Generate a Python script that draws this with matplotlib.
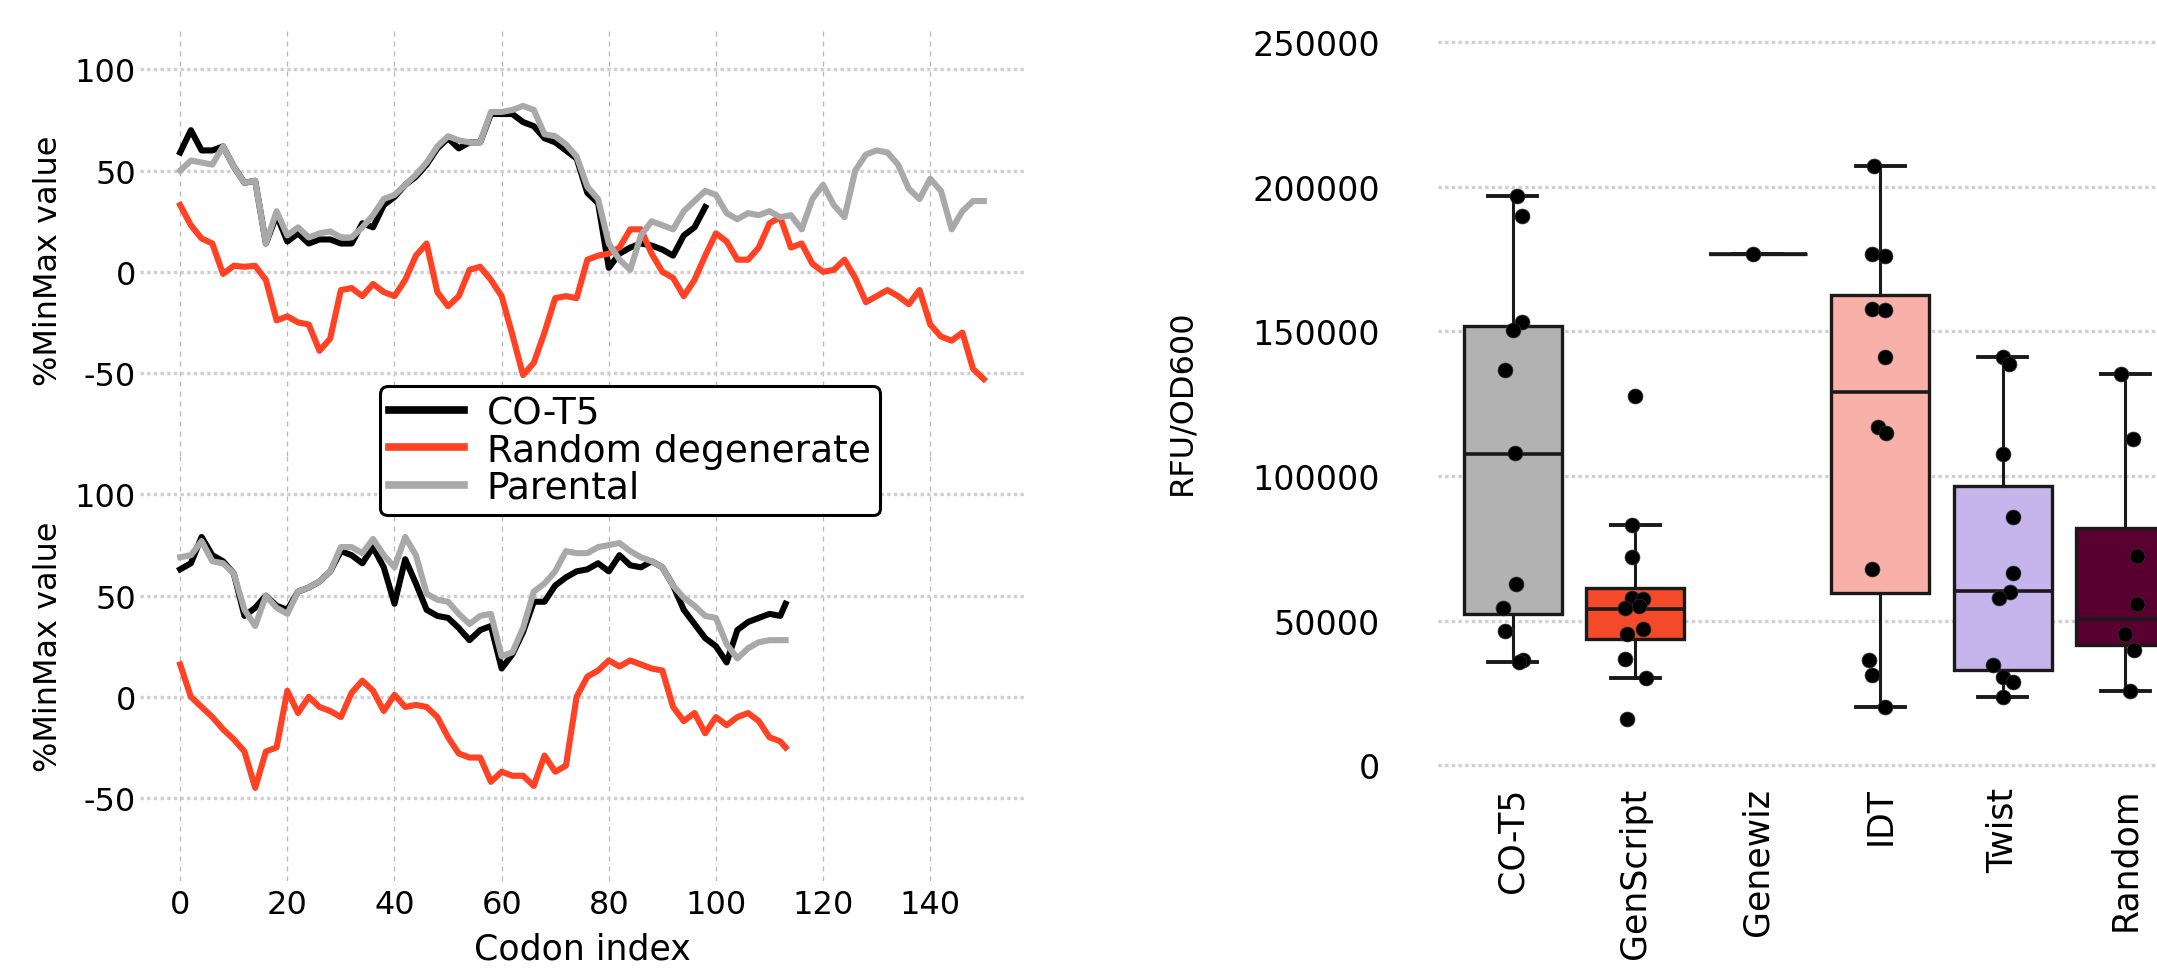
import matplotlib
matplotlib.use('Agg')
import matplotlib.pyplot as plt
from matplotlib.lines import Line2D

plt.rcParams['font.family'] = ['DejaVu Sans']
plt.rcParams['axes.unicode_minus'] = False

# ---------------- data: left panels (sliding-window %MinMax) ----------------
series_labels = ["CO-T5", "Random degenerate", "Parental"]

codon_top = list(range(0, 151, 2))
codon_top_cot5 = list(range(0, 99, 2))
top_cot5 = [59, 70, 60, 60, 62, 52, 44, 45, 14, 28,
            15, 19, 14, 16, 16, 14, 14, 24, 22, 33,
            37, 43, 47, 53, 61, 66, 61, 64, 64, 78,
            78, 78, 74, 72, 66, 64, 60, 56, 39, 34,
            2, 9, 12, 14, 13, 11, 8, 18, 22, 32]
top_random = [33, 23, 16.5, 14, -1, 3, 2.5, 3, -4, -24,
              -22, -25, -26, -39, -33, -9, -8, -12, -6, -10,
              -12, -4, 8, 14, -10, -17, -12, 1, 2.5, -4,
              -12, -31, -51, -45, -30, -13, -12, -13, 6, 8,
              9, 12, 21, 21, 9, 0, -3, -12, -4, 8,
              19, 15, 6, 6, 12, 24, 27, 12, 14, 4,
              0, 1, 6, -3, -15, -12, -9, -12, -16, -9,
              -26, -32, -34, -30, -48, -53]
top_parental = [50, 55, 54, 53, 62, 52, 44, 45, 14, 30,
                18, 22, 17, 19, 20, 17, 17, 22, 28, 36,
                38, 43, 48, 54, 62, 67, 65, 64, 64, 79,
                79, 80, 82, 80, 68, 67, 63, 57, 42, 36,
                14, 6, 1, 18, 25, 23, 21, 30, 35, 40,
                38, 29, 26, 29, 28, 30, 27, 28, 21, 36,
                43, 33, 27, 50, 58, 60, 59, 53, 41, 36,
                46, 40, 21, 30, 35, 35]

codon_bot = list(range(0, 113, 2)) + [113]
bot_cot5 = [63, 66, 79, 70, 67, 61, 40, 44, 50, 45,
            43, 52, 54, 57, 62, 72, 70, 66, 74, 64,
            46, 68, 56, 43, 40, 39, 34, 28, 33, 35,
            14, 21, 32, 47, 47, 55, 59, 62, 63, 66,
            62, 70, 65, 64, 67, 64, 55, 43, 36, 29,
            25, 17, 33, 37, 39, 41, 40, 46]
bot_random = [16, 0, -5, -10, -16, -21, -27, -45, -27, -25,
              3, -8, 0, -5, -7, -10, 2, 8, 3, -7,
              1, -5, -4, -5, -10, -20, -28, -30, -30, -42,
              -37, -39, -39, -44, -29, -37, -34, 0, 10, 13,
              18, 15, 18, 16, 14, 13, -5, -12, -8, -18,
              -10, -14, -10, -8, -12, -20, -22, -25]
bot_parental = [69, 70, 77, 67, 66, 61, 43, 35, 50, 44,
                41, 52, 54, 57, 62, 74, 74, 71, 78, 70,
                64, 79, 70, 51, 48, 47, 41, 36, 40, 41,
                20, 22, 34, 52, 56, 62, 72, 71, 71, 74,
                75, 76, 72, 69, 67, 64, 55, 49, 45, 40,
                39, 26, 19, 24, 27, 28, 28, 28]

# ---------------- data: right panel (RFU/OD600) ----------------
categories = ["CO-T5", "GenScript", "Genewiz", "IDT", "Twist", "Random"]
box_whislo = [35700, 30200, 176700, 20200, 23600, 25600]
box_q1 = [52400, 43500, 176700, 59700, 32800, 41500]
box_med = [107700, 54100, 176700, 129100, 60200, 50700]
box_q3 = [151700, 61400, 176700, 162700, 96500, 82100]
box_whishi = [196900, 82900, 176700, 207000, 141200, 135400]

pts_cot5 = [196900, 189700, 153200, 150600, 136600, 108100, 62800, 54400, 46300, 36300, 35700]
pts_genscript = [127600, 82900, 72000, 57800, 57500, 55000, 54400, 47200, 45500, 36900, 30200, 16000]
pts_genewiz = [176700]
pts_idt = [207000, 176700, 176000, 157800, 157300, 141000, 116900, 114700, 67700, 36300, 31300, 20200]
pts_twist = [141200, 138800, 107700, 85800, 66600, 60000, 57900, 34600, 30600, 28800, 23600]
pts_random = [135400, 112700, 72400, 55900, 45500, 39700, 25600]

# horizontal strip offsets of the dots (category units), as seen in the picture
dx_cot5 = [0.035, 0.074, 0.074, 0.0, -0.06, 0.016, 0.03, -0.08, -0.06, 0.08, 0.05]
dx_genscript = [0.0, -0.03, -0.03, -0.03, 0.06, 0.03, -0.08, 0.06, -0.07, -0.08, 0.09, -0.07]
dx_genewiz = [-0.04]
dx_idt = [-0.05, -0.07, 0.04, -0.07, 0.04, 0.04, -0.02, 0.05, -0.07, -0.09, -0.07, 0.04]
dx_twist = [0.0, 0.05, 0.0, 0.085, 0.085, 0.06, -0.03, -0.08, 0.0, 0.085, 0.0]
dx_random = [-0.03, 0.06, 0.1, 0.1, 0.0, 0.07, 0.04]

# ---------------- styling ----------------
line_colors = ["#000000", "#ff4124", "#a9a9a9"]
box_colors = ["#b2b2b2", "#f44a2a", "#f0c8c0", "#f8b1a8", "#c5b5ec", "#5a0030"]
edge = "#1a1a1a"

W, H = 2157, 970
fig = plt.figure(figsize=(W / 100, H / 100), dpi=100)


def rect(x0, y0, x1, y1):
    return [x0 / W, 1 - y1 / H, (x1 - x0) / W, (y1 - y0) / H]


ax_top = fig.add_axes(rect(140, 30, 1024, 457))
ax_bot = fig.add_axes(rect(140, 455, 1024, 882))
ax_box = fig.add_axes(rect(1438, 30, 2157, 775))

for ax in (ax_top, ax_bot):
    ax.set_facecolor("none")
    ax.set_xlim(-7.5, 157.5)
    ax.set_ylim(-91, 120)
    ax.set_xticks(range(0, 141, 20))
    ax.set_yticks([-50, 0, 50, 100])
    ax.grid(axis="x", color="#b8b8b8", linestyle=(0, (4, 4)), linewidth=0.9)
    ax.grid(axis="y", color="#cfcfcf", linestyle=(0, (1, 1)), linewidth=2.4)
    ax.set_axisbelow(True)
    for s in ax.spines.values():
        s.set_visible(False)
    ax.tick_params(length=0, labelsize=23)
    ax.tick_params(axis="y", pad=3)
    ax.tick_params(axis="x", pad=6)
    ax.set_ylabel("%MinMax value", fontsize=23)

ax_top.tick_params(labelbottom=False)
ax_top.yaxis.set_label_coords(-0.086, 0.46)
ax_bot.yaxis.set_label_coords(-0.086, 0.55)
ax_bot.set_xlabel("Codon index", fontsize=25, labelpad=8)

lw = 4.4
ax_top.plot(codon_top_cot5, top_cot5, color=line_colors[0], lw=lw)
ax_top.plot(codon_top, top_random, color=line_colors[1], lw=lw)
ax_top.plot(codon_top, top_parental, color=line_colors[2], lw=lw)
ax_bot.plot(codon_bot, bot_cot5, color=line_colors[0], lw=lw)
ax_bot.plot(codon_bot, bot_random, color=line_colors[1], lw=lw)
ax_bot.plot(codon_bot, bot_parental, color=line_colors[2], lw=lw)

handles = [Line2D([], [], color=c, lw=5.5) for c in line_colors]
leg = fig.legend(handles, series_labels, loc="upper left",
                 bbox_to_anchor=(380 / W, 1 - 387 / H), fontsize=27,
                 frameon=True, fancybox=True, framealpha=1, edgecolor="black",
                 borderpad=0.25, labelspacing=0.03, handlelength=2.0,
                 handletextpad=0.6, borderaxespad=0)
leg.get_frame().set_linewidth(2.2)

# ---------------- right panel ----------------
stats = []
for i in range(len(categories)):
    stats.append(dict(med=box_med[i], q1=box_q1[i], q3=box_q3[i],
                      whislo=box_whislo[i], whishi=box_whishi[i]))
bp = ax_box.bxp(stats, positions=range(len(categories)), widths=0.8,
                patch_artist=True, showfliers=False, capwidths=0.4,
                boxprops=dict(linewidth=2.4, edgecolor=edge),
                medianprops=dict(color=edge, linewidth=2.6),
                whiskerprops=dict(color=edge, linewidth=2.2),
                capprops=dict(color=edge, linewidth=2.8))
for patch, col in zip(bp["boxes"], box_colors):
    patch.set_facecolor(col)

all_pts = [pts_cot5, pts_genscript, pts_genewiz, pts_idt, pts_twist, pts_random]
all_dx = [dx_cot5, dx_genscript, dx_genewiz, dx_idt, dx_twist, dx_random]
for i, (vals, dxs) in enumerate(zip(all_pts, all_dx)):
    ax_box.scatter([i + d for d in dxs], vals, s=115, color="black",
                   edgecolor="#333333", linewidth=0.5, zorder=4)

ax_box.set_facecolor("none")
ax_box.set_xlim(-0.61, 5.26)
ax_box.set_ylim(-3000, 254500)
ax_box.set_yticks(range(0, 250001, 50000))
ax_box.set_xticks(range(len(categories)))
ax_box.set_xticklabels(categories, rotation=90)
ax_box.grid(axis="y", color="#cfcfcf", linestyle=(0, (1, 1)), linewidth=2.4)
ax_box.grid(axis="x", visible=False)
ax_box.set_axisbelow(True)
for s in ax_box.spines.values():
    s.set_visible(False)
ax_box.tick_params(axis="y", length=0, pad=42, labelsize=24)
ax_box.tick_params(axis="x", length=0, pad=9, labelsize=25)
ax_box.set_ylabel("RFU/OD600", fontsize=23)
ax_box.yaxis.set_label_coords(-0.334, 0.5)

fig.savefig("out.png", dpi=100)
